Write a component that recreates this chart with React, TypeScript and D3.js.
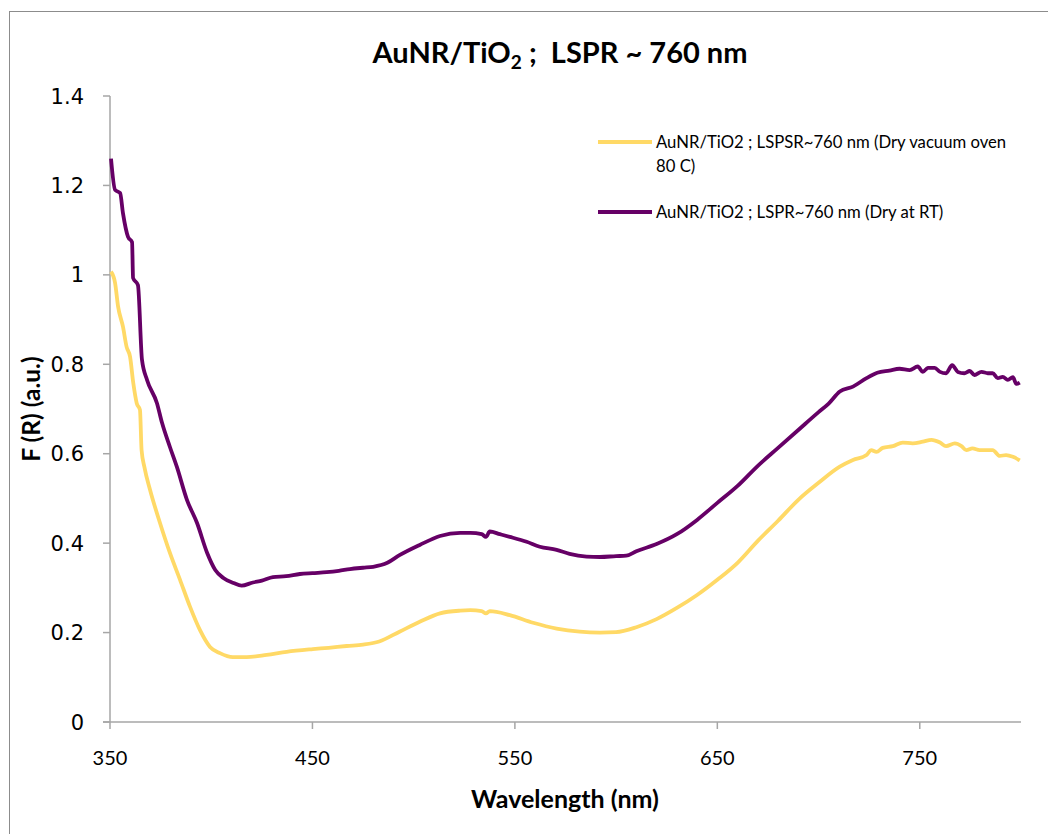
import React from "react";
import * as d3 from "d3";

// Wavelength (nm) and F(R) for the sample dried at room temperature
const rtWavelength = [
  350.5, 352.5, 355, 356.4, 358.9, 360.9, 361.4, 363.8, 365.8, 368.3, 373.2, 375.7, 379.6, 383, 388, 393, 398, 402,
  406, 411, 415, 420.6, 425, 430.5, 437, 443.8, 450, 457, 463, 468.5, 475, 480, 487, 493, 503, 513, 523, 528, 533.6,
  535.7, 537.6, 542.6, 547.5, 555.8, 562.3, 570.6, 577, 585.4, 592, 600, 605, 610, 620, 630, 640, 650, 660, 670, 680,
  690, 700, 705, 710.5, 717, 723.7, 729, 735, 740, 745, 749, 751.5, 754, 757.4, 760, 763, 766, 768.8, 772, 774.7, 777,
  780.5, 783.6, 786, 788.5, 791, 793.5, 796, 797.7, 799.4,
];
const rtValues = [
  1.26, 1.19, 1.183, 1.138, 1.085, 1.073, 0.993, 0.977, 0.81, 0.765, 0.713, 0.669, 0.615, 0.571, 0.497, 0.445, 0.378,
  0.34, 0.322, 0.311, 0.305, 0.312, 0.316, 0.324, 0.326, 0.331, 0.333, 0.335, 0.338, 0.342, 0.345, 0.347, 0.356, 0.373,
  0.396, 0.416, 0.423, 0.423, 0.42, 0.414, 0.426, 0.42, 0.414, 0.403, 0.392, 0.385, 0.376, 0.37, 0.369, 0.371, 0.372,
  0.382, 0.398, 0.42, 0.452, 0.49, 0.528, 0.573, 0.613, 0.653, 0.693, 0.712, 0.739, 0.75, 0.769, 0.781, 0.786, 0.79,
  0.787, 0.795, 0.783, 0.792, 0.792, 0.783, 0.78, 0.798, 0.783, 0.78, 0.785, 0.776, 0.783, 0.78, 0.78, 0.769, 0.772,
  0.765, 0.771, 0.756, 0.759,
];

// Wavelength (nm) and F(R) for the sample dried in the vacuum oven at 80 C
const ovenWavelength = [
  350.5, 352.5, 354, 356.4, 358.2, 359.9, 361.5, 363.2, 364.8, 365.6, 367, 369.8, 374.7, 379.6, 384.6, 389.5, 394.4,
  399.4, 404.3, 410.7, 417.5, 427.4, 437.3, 450.2, 458, 466.9, 475, 483, 493, 503, 513, 523, 528, 533.6, 535.7, 537.6,
  547.5, 559, 570.6, 582, 592, 600, 610, 620, 630, 640, 650, 660, 670, 680, 690, 700, 710.5, 717, 723.7, 726, 728.6,
  731.7, 736.7, 741.6, 746.5, 751.5, 755.8, 760, 763, 767.3, 770.6, 773, 776, 779.6, 783, 786, 789.5, 792.6, 796, 799.4,
];
const ovenValues = [
  1.007, 0.982, 0.929, 0.884, 0.839, 0.817, 0.758, 0.713, 0.698, 0.608, 0.57, 0.519, 0.445, 0.378, 0.318, 0.258, 0.206,
  0.168, 0.154, 0.145, 0.145, 0.15, 0.157, 0.163, 0.166, 0.17, 0.173, 0.18, 0.202, 0.224, 0.243, 0.249, 0.25, 0.248,
  0.243, 0.248, 0.239, 0.222, 0.209, 0.202, 0.2, 0.201, 0.212, 0.23, 0.255, 0.284, 0.318, 0.356, 0.405, 0.45, 0.497,
  0.535, 0.571, 0.586, 0.597, 0.608, 0.604, 0.613, 0.617, 0.625, 0.623, 0.627, 0.631, 0.625, 0.617, 0.623, 0.617, 0.608,
  0.612, 0.608, 0.608, 0.608, 0.595, 0.597, 0.593, 0.585,
];

const xTicks = [350, 450, 550, 650, 750];
const yTicks = [0, 0.2, 0.4, 0.6, 0.8, 1, 1.2, 1.4];

const ovenLabel = ["AuNR/TiO2 ; LSPSR~760 nm (Dry vacuum oven", "80 C)"];
const rtLabel = "AuNR/TiO2 ; LSPR~760 nm (Dry at RT)";

const W = 1048;
const H = 834;
const FONT = "Lato, 'Open Sans', sans-serif";
const OVEN_COLOR = "#FFD966";
const RT_COLOR = "#660066";
const AXIS_COLOR = "#A6A6A6";

export default function App() {
  const x = d3.scaleLinear().domain([350, 800]).range([110, 1021]);
  const y = d3.scaleLinear().domain([0, 1.4]).range([722, 96]);

  const line = d3
    .line<[number, number]>()
    .x((d) => x(d[0]))
    .y((d) => y(d[1]))
    .curve(d3.curveMonotoneX);

  const rtPts = rtWavelength.map((w, i) => [w, rtValues[i]] as [number, number]);
  const ovenPts = ovenWavelength.map((w, i) => [w, ovenValues[i]] as [number, number]);

  return (
    <svg
      width={W}
      height={H}
      style={{ position: "absolute", left: 0, top: 0, background: "#fff" }}
      fontFamily={FONT}
    >
      <rect x={9.5} y={11.5} width={W + 10} height={H + 10} fill="#fff" stroke="#8c8c8c" strokeWidth={1} />

      {/* Title */}
      <text x={560} y={63} textAnchor="middle" fontSize={29} fontWeight="bold" fill="#000" style={{ whiteSpace: "pre" }}>
        AuNR/TiO
        <tspan fontSize={19} dy={6}>2</tspan>
        <tspan dy={-6}>{" ;  LSPR ~ 760 nm"}</tspan>
      </text>

      {/* Axes */}
      <line x1={x(350)} x2={x(350)} y1={y(1.4)} y2={y(0)} stroke={AXIS_COLOR} strokeWidth={1.5} />
      <line x1={x(350) - 7} x2={x(800)} y1={y(0)} y2={y(0)} stroke={AXIS_COLOR} strokeWidth={1.5} />
      {yTicks.map((t) => (
        <g key={`y${t}`}>
          <line x1={x(350) - 7} x2={x(350)} y1={y(t)} y2={y(t)} stroke={AXIS_COLOR} strokeWidth={1.5} />
          <text
            x={84}
            y={y(t)}
            dy="0.36em"
            textAnchor="end"
            fontSize={21}
            fontFamily="'DejaVu Sans', Verdana, sans-serif"
            fill="#000"
          >
            {d3.format("~g")(t)}
          </text>
        </g>
      ))}
      {xTicks.map((t) => (
        <g key={`x${t}`}>
          <line x1={x(t)} x2={x(t)} y1={y(0)} y2={y(0) + 7} stroke={AXIS_COLOR} strokeWidth={1.5} />
          <text x={x(t)} y={765} textAnchor="middle" fontSize={20} fill="#000">
            {t}
          </text>
        </g>
      ))}

      {/* Axis titles */}
      <text x={565} y={808} textAnchor="middle" fontSize={25} fontWeight="bold" fill="#000">
        Wavelength (nm)
      </text>
      <text
        transform={`translate(40, 409) rotate(-90)`}
        textAnchor="middle"
        fontSize={24.5}
        fontWeight="bold"
        fill="#000"
      >
        F (R) (a.u.)
      </text>

      {/* Series */}
      <path d={line(ovenPts) ?? ""} fill="none" stroke={OVEN_COLOR} strokeWidth={3.8} strokeLinejoin="round" />
      <path d={line(rtPts) ?? ""} fill="none" stroke={RT_COLOR} strokeWidth={3.8} strokeLinejoin="round" />

      {/* Legend */}
      <line x1={598} x2={652} y1={142} y2={142} stroke={OVEN_COLOR} strokeWidth={3.8} />
      <text x={656} y={148} fontSize={16.7} fill="#000">
        {ovenLabel[0]}
      </text>
      <text x={656} y={172} fontSize={16.7} fill="#000">
        {ovenLabel[1]}
      </text>
      <line x1={598} x2={652} y1={212} y2={212} stroke={RT_COLOR} strokeWidth={3.8} />
      <text x={656} y={218} fontSize={16.7} fill="#000">
        {rtLabel}
      </text>
    </svg>
  );
}
